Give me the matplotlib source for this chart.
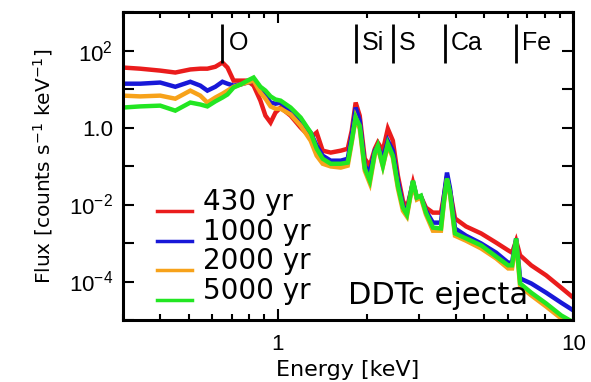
import matplotlib
matplotlib.use('Agg')
import numpy as np
import matplotlib.pyplot as plt
from matplotlib.ticker import FixedLocator, FixedFormatter, NullFormatter
from matplotlib.lines import Line2D
from matplotlib.legend_handler import HandlerLine2D

plt.rcParams['font.family'] = ['Liberation Sans', 'DejaVu Sans']
plt.rcParams['mathtext.fontset'] = 'custom'
plt.rcParams['mathtext.rm'] = 'Liberation Sans'
plt.rcParams['mathtext.it'] = 'Liberation Sans:italic'
plt.rcParams['mathtext.bf'] = 'Liberation Sans:bold'

# ---------------- data ----------------
energy_kev = [0.300, 0.343, 0.401, 0.451, 0.507, 0.548, 0.579, 0.616, 0.651, 0.677,
              0.710, 0.750, 0.791, 0.830, 0.875, 0.910, 0.947, 0.984, 1.024, 1.107,
              1.197, 1.294, 1.356, 1.421, 1.513, 1.636, 1.727, 1.782, 1.837, 1.896,
              1.972, 2.051, 2.133, 2.183, 2.270, 2.360, 2.454, 2.552, 2.654, 2.737,
              2.870, 2.960, 3.053, 3.175, 3.352, 3.569, 3.654, 3.741, 3.830, 3.981,
              4.339, 4.878, 5.484, 6.022, 6.209, 6.410, 6.610, 7.208, 8.095, 9.101, 10.0]

# log10 of flux [counts s^-1 keV^-1]
log_flux_430 = [1.56, 1.53, 1.48, 1.43, 1.51, 1.53, 1.53, 1.58, 1.69, 1.56,
                1.22, 1.22, 1.22, 1.09, 0.70, 0.31, 0.13, 0.39, 0.52, 0.31,
                0.00, -0.26, -0.13, -0.60, -0.65, -0.60, -0.55, -0.08, 0.65, 0.31,
                -0.81, -0.99, -0.55, -0.39, -0.60, -0.03, -0.34, -1.25, -1.90, -2.10,
                -1.43, -1.84, -1.79, -2.08, -2.21, -2.21, -1.77, -1.27, -1.64, -2.36,
                -2.57, -2.75, -2.99, -3.19, -3.25, -2.94, -3.32, -3.58, -3.84, -4.16, -4.42]
log_flux_1000 = [1.14, 1.14, 1.17, 1.06, 1.19, 1.09, 0.96, 1.06, 1.19, 1.14,
                 1.09, 1.12, 1.17, 1.22, 1.01, 0.83, 0.65, 0.62, 0.65, 0.44,
                 0.18, -0.13, -0.47, -0.73, -0.86, -0.86, -0.81, -0.21, 0.52, 0.18,
                 -0.99, -1.17, -0.60, -0.49, -0.81, -0.34, -0.60, -1.38, -2.03, -2.21,
                 -1.40, -1.84, -1.79, -2.16, -2.47, -2.47, -1.77, -1.17, -1.58, -2.62,
                 -2.81, -3.01, -3.25, -3.51, -3.51, -2.88, -3.92, -4.05, -4.29, -4.55, -4.75]
log_flux_2000 = [0.83, 0.81, 0.83, 0.75, 0.96, 0.83, 0.65, 0.78, 0.88, 0.96,
                 1.06, 1.12, 1.17, 1.22, 0.91, 0.75, 0.55, 0.49, 0.49, 0.34,
                 0.05, -0.34, -0.73, -0.94, -1.01, -1.04, -0.99, -0.39, 0.26, -0.03,
                 -1.12, -1.45, -0.70, -0.52, -1.01, -0.47, -0.78, -1.58, -2.16, -2.31,
                 -1.43, -1.87, -1.82, -2.26, -2.68, -2.68, -1.95, -1.35, -1.74, -2.81,
                 -2.94, -3.14, -3.40, -3.66, -3.66, -2.94, -4.13, -4.36, -4.65, -4.96, -5.12]
log_flux_5000 = [0.52, 0.55, 0.57, 0.44, 0.65, 0.60, 0.55, 0.68, 0.78, 0.86,
                 1.04, 1.12, 1.22, 1.30, 1.06, 0.96, 0.81, 0.73, 0.70, 0.52,
                 0.26, -0.13, -0.55, -0.81, -0.94, -0.94, -0.91, -0.34, 0.26, 0.05,
                 -1.06, -1.38, -0.65, -0.47, -0.99, -0.42, -0.73, -1.51, -2.08, -2.26,
                 -1.38, -1.82, -1.77, -2.21, -2.60, -2.62, -1.90, -1.32, -1.69, -2.75,
                 -2.88, -3.06, -3.35, -3.58, -3.58, -2.88, -4.05, -4.29, -4.57, -4.88, -5.06]

series_labels = ['430 yr', '1000 yr', '2000 yr', '5000 yr']
series_colors = ['#ea1c1c', '#1818d8', '#f7a21a', '#22e622']

element_names = ['O', 'Si', 'S', 'Ca', 'Fe']
element_energies = [0.65, 1.84, 2.45, 3.68, 6.38]
marker_flux_low, marker_flux_high = 49.0, 500.0
marker_label_flux = 160.0

y_tick_values = [1e-5, 1e-4, 1e-3, 1e-2, 1e-1, 1e0, 1e1, 1e2, 1e3]
y_tick_labels = ['', r'$\mathregular{10^{-4}}$', '', r'$\mathregular{10^{-2}}$', '',
                 '1.0', '', r'$\mathregular{10^{2}}$', '']
x_tick_values = [1, 10]
x_tick_labels = ['1', '10']
x_minor_values = [0.3, 0.4, 0.5, 0.6, 0.7, 0.8, 0.9, 2, 3, 4, 5, 6, 7, 8, 9]


class BaselineHandler(HandlerLine2D):
    """Legend line drawn at the text baseline rather than its middle."""
    def create_artists(self, legend, orig_handle, xdescent, ydescent,
                       width, height, fontsize, trans):
        artists = super().create_artists(legend, orig_handle, xdescent, ydescent,
                                         width, height, fontsize, trans)
        for a in artists:
            y = np.asarray(a.get_ydata(), dtype=float)
            a.set_ydata(y - 0.55 * height)
        return artists


# ---------------- plot ----------------
fig = plt.figure(figsize=(5.91, 3.82), dpi=100)
ax = fig.add_axes([0.208, 0.1623, 0.762, 0.806])

all_series = [log_flux_430, log_flux_1000, log_flux_2000, log_flux_5000]
E = np.array(energy_kev)
for logf, col in zip(all_series, series_colors):
    ax.plot(E, 10 ** np.array(logf), color=col, lw=3.2, solid_joinstyle='miter')

ax.set_xscale('log')
ax.set_yscale('log')
ax.set_xlim(0.3, 10)
ax.set_ylim(1e-5, 1e3)

# element markers
ax.vlines(element_energies, marker_flux_low, marker_flux_high, color='black', lw=2.0)
for name, en in zip(element_names, element_energies):
    ax.text(en * 1.05, marker_label_flux, name, fontsize=18, va='center', ha='left')

ax.xaxis.set_major_locator(FixedLocator(x_tick_values))
ax.xaxis.set_major_formatter(FixedFormatter(x_tick_labels))
ax.xaxis.set_minor_locator(FixedLocator(x_minor_values))
ax.xaxis.set_minor_formatter(NullFormatter())
ax.yaxis.set_major_locator(FixedLocator(y_tick_values))
ax.yaxis.set_major_formatter(FixedFormatter(y_tick_labels))
ax.yaxis.set_minor_locator(FixedLocator([]))

ax.tick_params(which='both', direction='in', top=True, right=True, width=1.5, colors='black')
ax.tick_params(which='major', length=8, labelsize=16)
ax.tick_params(which='minor', length=4)
ax.tick_params(axis='x', which='major', pad=10)
ax.tick_params(axis='y', which='major', pad=7)
for sp in ax.spines.values():
    sp.set_linewidth(2.2)

ax.set_xlabel('Energy [keV]', fontsize=16, family='DejaVu Sans', labelpad=4)
ax.set_ylabel(r'Flux [counts s$^{\mathregular{-1}}$ keV$^{\mathregular{-1}}$]',
              fontsize=14.5, family='DejaVu Sans', labelpad=10)

handles = [Line2D([], [], color=c, lw=2.5) for c in series_colors]
ax.legend(handles, series_labels, loc='upper left', bbox_to_anchor=(0.0756, 0.43),
          frameon=False, prop={'family': 'DejaVu Sans', 'size': 20},
          handlelength=1.26, handletextpad=0.4,
          labelspacing=0.07, borderpad=0.0, borderaxespad=0.0,
          handler_map={Line2D: BaselineHandler()})

ax.text(0.5, 0.052, 'DDTc ejecta', transform=ax.transAxes, fontsize=22,
        family='DejaVu Sans', ha='left', va='baseline')

fig.savefig('out.png', dpi=100, facecolor='white')
